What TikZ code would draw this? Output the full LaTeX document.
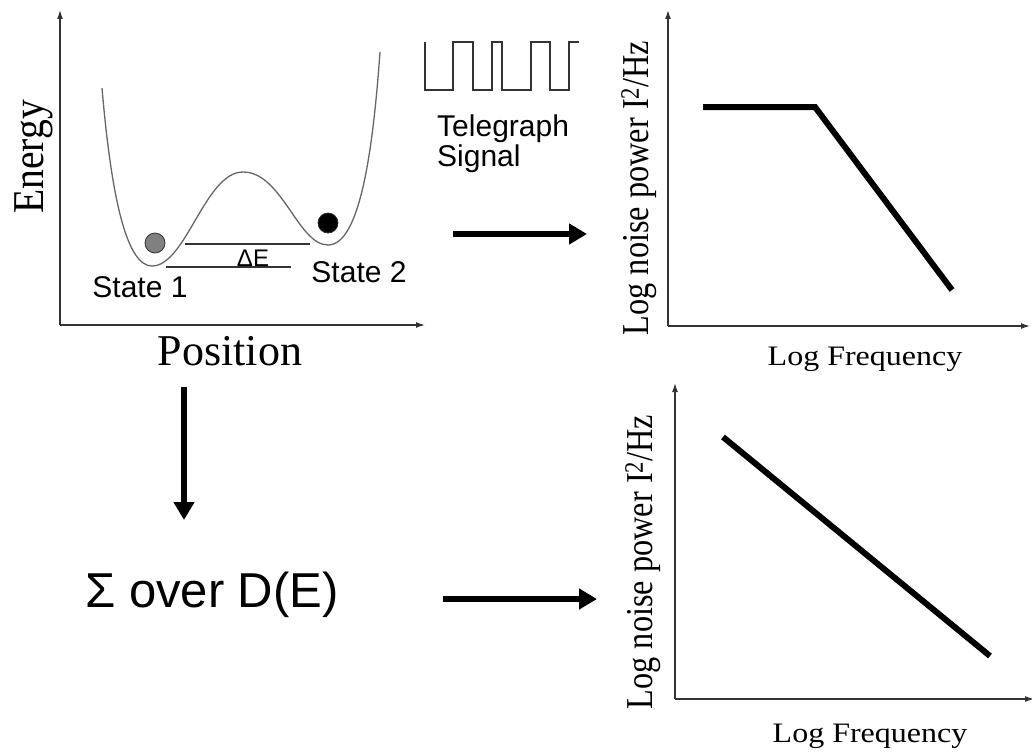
\documentclass[tikz,border=0pt]{standalone}
\usepackage{fontspec}
\setmainfont{Liberation Serif}
\newfontfamily\arialfont{Liberation Sans}
\usetikzlibrary{arrows.meta}

\begin{document}
\begin{tikzpicture}[
  x=1pt, y=-1pt,
  axis/.style={draw=black!80, line width=1.3pt, -{Latex[length=9pt,width=6pt]}},
  curve/.style={draw=black!60, line width=1.3pt},
  level/.style={draw=black!80, line width=1.2pt},
  spec/.style={line width=6pt},
  bigarr/.style={line width=6.5pt, -{Triangle[length=18pt,width=20pt]}},
  ball/.style={circle, draw=black!80, line width=0.8pt, minimum size=20pt, inner sep=0pt},
  sans/.style={font=\arialfont\fontsize{30}{30}\selectfont, inner sep=0pt},
  serif/.style={font=\fontsize{32}{32}\selectfont, inner sep=0pt, yscale=0.88},
  ylab/.style={font=\fontsize{38}{38}\selectfont, inner sep=0pt, rotate=90, xscale=0.85, anchor=base}
]
\useasboundingbox (0,0) rectangle (1032,752);

% double well
\coordinate (o1) at (60,325);
\coordinate (y1) at (60,10);
\coordinate (x1) at (425,325);
\draw[axis] (o1) -- (y1);
\draw[axis] (o1) -- (x1);
\draw[curve] (102,88) .. controls (112,205) and (128,266) .. (152,266)
  .. controls (186,266) and (205,172) .. (243,172)
  .. controls (282,172) and (298,245) .. (328,245)
  .. controls (360,245) and (373,150) .. (380,52);
\draw[level] (185,244) -- (310,244);
\draw[level] (166,267) -- (291,267);
\node[ball, fill=black!50] (ball1) at (155,243) {};
\node[ball, fill=black] (ball2) at (328,223) {};
\node[sans, font=\arialfont\fontsize{24}{24}\selectfont, anchor=base] (de) at (253,266) {ΔE};
\node[sans, anchor=base] (st1) at (140,297) {State 1};
\node[sans, anchor=base] (st2) at (359,282) {State 2};
\node[font=\fontsize{44}{44}\selectfont, inner sep=0pt, rotate=90, xscale=0.9, anchor=base] (energy) at (43,157) {Energy};
\node[font=\fontsize{44}{44}\selectfont, inner sep=0pt, anchor=base] (position) at (230,365) {Position};

% telegraph signal
\draw[line width=1.2pt, draw=black!80] (425,42) -- (425,90) -- (453,90) -- (453,42) -- (473,42)
  -- (473,90) -- (492,90) -- (492,42) -- (502,42) -- (502,90) -- (531,90) -- (531,42)
  -- (550,42) -- (550,90) -- (569,90) -- (569,42) -- (579,42);
\node[sans, align=left, anchor=north west] (tele) at (437,115) {Telegraph\\Signal};

% lorentzian spectrum
\coordinate (o2) at (668,326);
\draw[axis] (o2) -- (668,10);
\draw[axis] (o2) -- (1030,326);
\draw[spec] (703,107) -- (815,107) -- (952,290);
\node[ylab] (ylab1) at (648,188) {Log noise power I\textsuperscript{2}/Hz};
\node[serif, anchor=base] (xlab1) at (865,365) {Log Frequency};

% 1/f spectrum
\coordinate (o3) at (675,699);
\draw[axis] (o3) -- (675,383);
\draw[axis] (o3) -- (1034,699);
\draw[spec] (723,437) -- (990,656);
\node[ylab] (ylab2) at (652,562) {Log noise power I\textsuperscript{2}/Hz};
\node[serif, anchor=base] (xlab2) at (870,742) {Log Frequency};

% sum over states
\node[sans, font=\arialfont\fontsize{49}{49}\selectfont, anchor=base west] (sumde) at (85,607) {Σ over D(E)};

\coordinate (a1s) at (453,234);
\coordinate (a1e) at (587,234);
\coordinate (a2s) at (184,387);
\coordinate (a2e) at (184,520);
\coordinate (a3s) at (443,599);
\coordinate (a3e) at (597,599);
\draw[bigarr] (a1s) -- (a1e);
\draw[bigarr] (a2s) -- (a2e);
\draw[bigarr] (a3s) -- (a3e);
\end{tikzpicture}
\end{document}
